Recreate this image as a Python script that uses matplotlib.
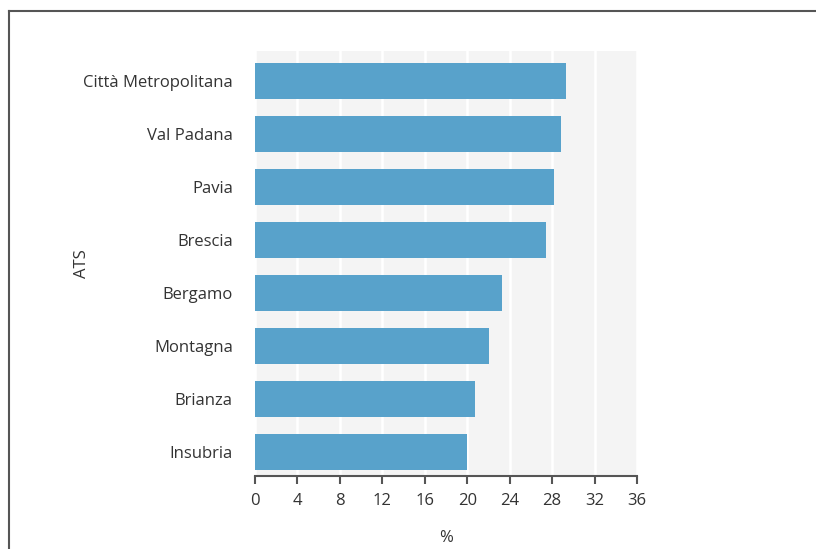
import matplotlib
matplotlib.use("Agg")
import matplotlib.pyplot as plt
from matplotlib.lines import Line2D

categories = ["Città Metropolitana", "Val Padana", "Pavia", "Brescia",
              "Bergamo", "Montagna", "Brianza", "Insubria"]
values = [29.3, 28.8, 28.2, 27.4, 23.3, 22.05, 20.7, 20.0]
xticks = [0, 4, 8, 12, 16, 20, 24, 28, 32, 36]

plt.rcParams['font.family'] = ['Open Sans', 'DejaVu Sans']
text_color = '#333333'

fig = plt.figure(figsize=(8.16, 5.49), dpi=100)
ax = fig.add_axes([255/816, 1-476/549, 382/816, 425/549])
ax.set_facecolor('#f4f4f4')

ypos = list(range(len(categories)))
ax.barh(ypos, values, height=0.68, color='#58a2cb', zorder=3)
ax.set_ylim(7.46, -0.557)
ax.set_xlim(0, 36)
ax.set_xticks(xticks)
ax.set_xticklabels([str(t) for t in xticks])
ax.set_yticks(ypos)
ax.set_yticklabels(categories)
ax.grid(axis='x', color='white', linewidth=1.8, zorder=1)
ax.set_axisbelow(True)

for s in ['top', 'right', 'left']:
    ax.spines[s].set_visible(False)
ax.spines['bottom'].set_color('#555555')
ax.spines['bottom'].set_linewidth(1.5)
ax.tick_params(axis='x', length=6, width=1.5, color='#555555',
               labelsize=12, labelcolor=text_color, pad=6)
ax.tick_params(axis='y', length=0, labelsize=12, labelcolor=text_color, pad=16)

ax.set_xlabel('%', fontsize=12, color=text_color, labelpad=15)
ax.set_ylabel('ATS', fontsize=12, color=text_color)
ax.yaxis.set_label_coords((90 - 255) / 382, 0.5)

# frame lines around figure (top and left)
fig.add_artist(Line2D([8.5/816, 1.0], [1-10.5/549, 1-10.5/549],
                      transform=fig.transFigure, color='#555555', linewidth=1.5))
fig.add_artist(Line2D([8.5/816, 8.5/816], [0, 1-10.5/549],
                      transform=fig.transFigure, color='#555555', linewidth=1.5))

fig.savefig('out.png', dpi=100)
